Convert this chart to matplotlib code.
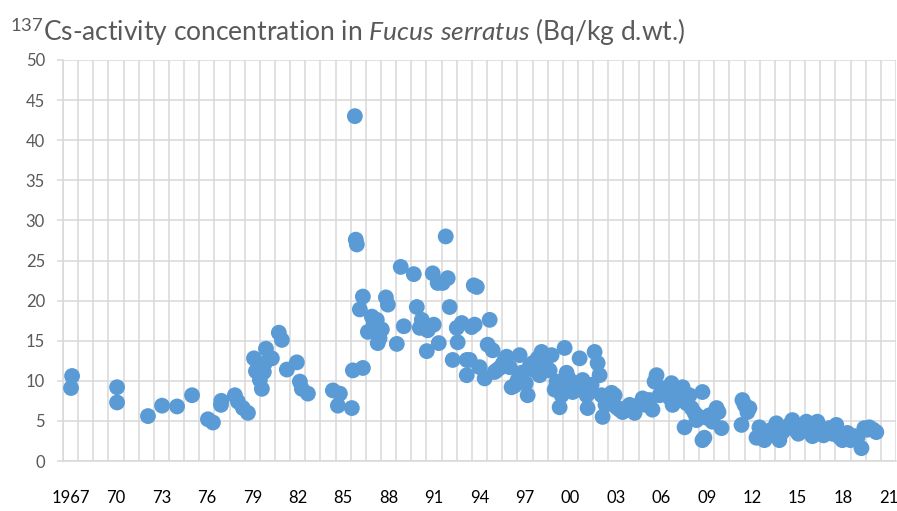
import numpy as np
import matplotlib
matplotlib.use("Agg")
import matplotlib.pyplot as plt
from matplotlib.ticker import FixedLocator, MultipleLocator

plt.rcParams["font.family"] = ["Lato", "DejaVu Sans"]
plt.rcParams["mathtext.fontset"] = "custom"
plt.rcParams["mathtext.rm"] = "Lato"
plt.rcParams["mathtext.it"] = "Lato:italic"

# ── Data (sampling date as decimal year, Bq/kg d.wt.) ─────────────────────────
year_early = [1967.53, 1967.60, 1970.57, 1970.57, 1972.61, 1973.54, 1974.53,
              1975.52, 1976.57, 1976.90, 1977.43, 1977.45, 1978.35, 1978.55,
              1978.88, 1979.21, 1979.61, 1979.74, 1979.87, 1980.00, 1980.13,
              1980.26, 1980.33, 1980.40, 1980.79, 1981.25, 1981.45, 1981.78,
              1982.44, 1982.64, 1982.77, 1983.17, 1984.82, 1985.15, 1985.28]
cs_early = [9.1, 10.6, 9.2, 7.3, 5.6, 6.9, 6.8,
            8.2, 5.2, 4.8, 7.0, 7.5, 8.2, 7.4,
            6.6, 6.0, 12.8, 11.2, 11.6, 10.1, 9.0,
            11.1, 12.2, 14.0, 12.8, 16.0, 15.1, 11.4,
            12.3, 9.9, 9.0, 8.4, 8.8, 6.9, 8.4]

year_cher = [1986.07, 1986.14, 1986.27, 1986.33, 1986.40, 1986.60, 1986.80,
             1986.80, 1987.13, 1987.39, 1987.52, 1987.72, 1987.78, 1987.90,
             1988.05, 1988.32, 1988.45, 1989.04, 1989.30, 1989.50, 1990.16,
             1990.36, 1990.56, 1990.69, 1991.02, 1991.08, 1991.41, 1991.48,
             1991.74, 1991.81, 1992.07, 1992.27, 1992.40, 1992.53, 1992.73,
             1993.00, 1993.06, 1993.33, 1993.66, 1993.66, 1993.85, 1993.98]
cs_cher = [6.6, 11.3, 43.0, 27.6, 27.0, 18.9, 20.5,
           11.6, 16.1, 18.0, 17.2, 17.6, 14.7, 15.3,
           16.4, 20.4, 19.5, 14.6, 24.2, 16.8, 23.3,
           19.2, 16.6, 17.6, 13.7, 16.3, 23.4, 17.0,
           22.2, 14.7, 22.2, 28.0, 22.8, 19.2, 12.6,
           16.6, 14.8, 17.2, 12.6, 10.7, 12.6, 16.7]

year_mid = [1994.12, 1994.18, 1994.32, 1994.51, 1994.84, 1995.04, 1995.17,
            1995.37, 1995.50, 1995.63, 1995.83, 1996.03, 1996.16, 1996.29,
            1996.49, 1996.62, 1996.82, 1997.02, 1997.15, 1997.28, 1997.55,
            1997.68, 1997.81, 1998.01, 1998.14, 1998.34, 1998.47, 1998.60,
            1998.80, 1998.93, 1999.13, 1999.26, 1999.46, 1999.59, 1999.79,
            1999.92, 2000.12, 2000.25, 2000.38, 2000.45, 2000.65, 2000.78,
            2000.91, 2001.11, 2001.31, 2001.44, 2001.57, 2001.64, 2001.77,
            2001.90, 2002.10, 2002.30, 2002.43, 2002.56, 2002.63, 2002.82,
            2003.09, 2003.22, 2003.42, 2003.55, 2003.75]
cs_mid = [21.9, 17.0, 21.7, 11.7, 10.3, 14.5, 17.6,
          13.8, 11.1, 11.3, 11.6, 12.1, 12.6, 13.0,
          11.7, 9.2, 9.4, 10.1, 13.2, 11.0, 9.7,
          8.2, 11.8, 12.2, 11.3, 12.8, 10.7, 13.6,
          12.6, 11.6, 11.3, 13.2, 8.9, 9.9, 6.7,
          8.2, 14.1, 11.0, 10.3, 9.5, 8.6, 9.7,
          8.9, 12.8, 10.1, 9.5, 8.2, 6.6, 8.6,
          9.5, 13.6, 12.2, 10.7, 8.2, 5.5, 7.0,
          7.9, 8.5, 8.2, 6.7, 6.4]

year_late = [2003.95, 2004.21, 2004.41, 2004.74, 2004.94, 2005.27, 2005.46,
             2005.73, 2005.92, 2006.06, 2006.19, 2006.39, 2006.58, 2006.78,
             2007.05, 2007.18, 2007.25, 2007.44, 2007.71, 2007.91, 2008.04,
             2008.17, 2008.37, 2008.50, 2008.70, 2008.83, 2009.02, 2009.22,
             2009.35, 2009.22, 2009.49, 2009.68, 2009.88, 2010.15, 2010.28,
             2010.48, 2011.80, 2011.86, 2012.00, 2012.19, 2012.32, 2012.79,
             2012.98, 2013.31, 2013.51]
cs_late = [6.1, 6.6, 7.0, 6.0, 6.9, 7.8, 7.0,
           7.6, 6.4, 9.9, 10.7, 8.2, 8.6, 9.1,
           7.9, 9.7, 7.0, 8.5, 7.9, 9.2, 4.2,
           7.2, 8.2, 6.6, 6.0, 5.1, 5.5, 8.6,
           2.9, 2.6, 5.4, 5.7, 4.9, 6.6, 6.1,
           4.1, 4.5, 7.6, 7.0, 6.1, 6.6, 2.9,
           4.2, 2.6, 3.1]

year_recent = [2013.77, 2014.10, 2014.30, 2014.50, 2014.69, 2014.96, 2015.16,
               2015.35, 2015.55, 2015.75, 2015.95, 2016.08, 2016.28, 2016.48,
               2016.68, 2016.81, 2017.01, 2017.21, 2017.40, 2017.60, 2017.80,
               2018.06, 2018.26, 2018.46, 2018.66, 2018.79, 2018.99, 2019.25,
               2019.45, 2019.72, 2019.91, 2020.11, 2020.24, 2020.50, 2020.70]
cs_recent = [3.9, 4.7, 2.6, 3.6, 4.1, 4.5, 5.1,
             3.9, 3.4, 4.2, 4.5, 4.9, 3.6, 3.1,
             4.1, 4.9, 3.9, 3.2, 3.6, 4.1, 3.4,
             4.5, 3.0, 2.6, 3.0, 3.5, 2.6, 3.1,
             2.9, 1.6, 4.1, 3.9, 4.2, 3.9, 3.6]

years = year_early + year_cher + year_mid + year_late + year_recent
activity = cs_early + cs_cher + cs_mid + cs_late + cs_recent

label_years = list(range(1967, 2022, 3))
label_text = ["1967"] + [f"{y % 100:02d}" for y in label_years[1:]]

# ── Figure ────────────────────────────────────────────────────────────────────
fig = plt.figure(figsize=(8.97, 5.11), dpi=100)
ax = fig.add_axes([63 / 897, 50 / 511, 833 / 897, 401 / 511])

grid_col = "#d9d9d9"
ax.scatter(years, activity, s=130, color="#5b9bd5", edgecolors="none",
           zorder=3, clip_on=False)

ax.set_xlim(1967, 2022)
ax.set_ylim(0, 50)

ax.yaxis.set_major_locator(MultipleLocator(5))
ax.xaxis.set_major_locator(FixedLocator([y + 0.5 for y in label_years]))
ax.xaxis.set_minor_locator(MultipleLocator(1))
ax.set_xticklabels(label_text)

ax.grid(axis="y", which="major", color=grid_col, lw=1.1, zorder=0)
ax.grid(axis="x", which="minor", color=grid_col, lw=1.1, zorder=0)
ax.grid(axis="x", which="major", visible=False)

for s in ["top", "right"]:
    ax.spines[s].set_visible(False)
for s in ["left", "bottom"]:
    ax.spines[s].set_color(grid_col)
    ax.spines[s].set_linewidth(1.1)

ax.tick_params(axis="y", length=4, width=1.1, color=grid_col, pad=9,
               labelsize=12, labelcolor="#595959")
ax.tick_params(axis="x", which="both", length=0, pad=21, labelsize=12,
               labelcolor="black")

fig.text(10 / 897, 1 - 32 / 511,
         r"$^{137}$Cs-activity concentration in $\mathit{Fucus\ serratus}$ (Bq/kg d.wt.)",
         fontsize=19, color="#595959", ha="left", va="center")

fig.savefig("out.png", dpi=100)
